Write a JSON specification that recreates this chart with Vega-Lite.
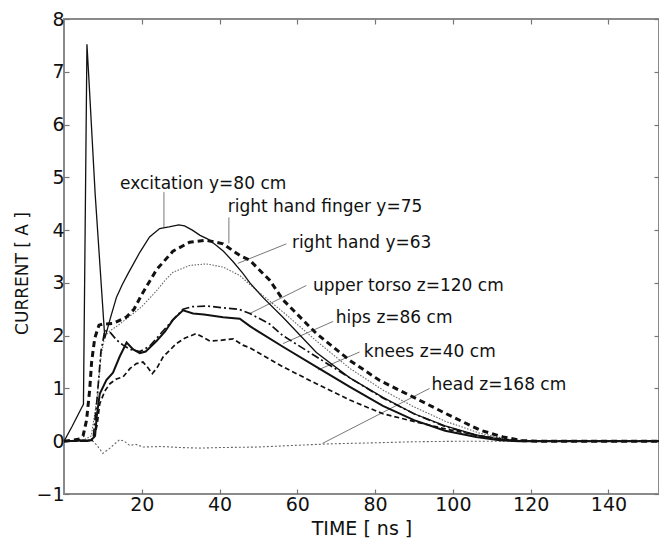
{
  "$schema": "https://vega.github.io/schema/vega-lite/v6.json",
  "width": 595,
  "height": 475,
  "autosize": {"type": "none"},
  "padding": {"left": 64, "top": 19, "right": 0, "bottom": 44},
  "background": "white",
  "config": {
    "view": {"stroke": "#8a8a8a", "strokeWidth": 2},
    "font": "DejaVu Sans",
    "axis": {"grid": false, "domain": false, "tickColor": "#777", "tickWidth": 1.2, "tickSize": -5, "labelFont": "DejaVu Sans", "labelFontSize": 19, "labelColor": "#111", "titleFont": "DejaVu Sans", "titleColor": "#111", "titleFontWeight": "normal"}
  },
  "datasets": {
    "curves": [
      {"series": "excitation", "t": 0, "I": 0}, {"series": "excitation", "t": 2, "I": 0.27}, {"series": "excitation", "t": 4.5, "I": 0.63}, {"series": "excitation", "t": 5.0, "I": 0.7}, {"series": "excitation", "t": 5.9, "I": 7.52}, {"series": "excitation", "t": 6.3, "I": 7.0}, {"series": "excitation", "t": 8, "I": 4.7}, {"series": "excitation", "t": 10.5, "I": 1.95}, {"series": "excitation", "t": 12, "I": 2.35}, {"series": "excitation", "t": 13.5, "I": 2.73}, {"series": "excitation", "t": 15, "I": 2.97}, {"series": "excitation", "t": 16.5, "I": 3.18}, {"series": "excitation", "t": 19.5, "I": 3.58}, {"series": "excitation", "t": 22, "I": 3.87}, {"series": "excitation", "t": 24.6, "I": 4.03}, {"series": "excitation", "t": 27, "I": 4.06}, {"series": "excitation", "t": 29.5, "I": 4.1}, {"series": "excitation", "t": 31, "I": 4.08}, {"series": "excitation", "t": 33, "I": 4.0}, {"series": "excitation", "t": 35, "I": 3.9}, {"series": "excitation", "t": 37, "I": 3.83}, {"series": "excitation", "t": 39.2, "I": 3.71}, {"series": "excitation", "t": 41, "I": 3.6}, {"series": "excitation", "t": 43.5, "I": 3.4}, {"series": "excitation", "t": 46, "I": 3.18}, {"series": "excitation", "t": 47.8, "I": 3.0}, {"series": "excitation", "t": 51.2, "I": 2.72}, {"series": "excitation", "t": 56.3, "I": 2.35}, {"series": "excitation", "t": 64.9, "I": 1.68}, {"series": "excitation", "t": 73.5, "I": 1.2}, {"series": "excitation", "t": 82, "I": 0.83}, {"series": "excitation", "t": 90, "I": 0.52}, {"series": "excitation", "t": 98, "I": 0.29}, {"series": "excitation", "t": 106, "I": 0.12}, {"series": "excitation", "t": 112, "I": 0.04}, {"series": "excitation", "t": 118, "I": 0}, {"series": "excitation", "t": 153, "I": 0},

      {"series": "finger", "t": 0, "I": 0}, {"series": "finger", "t": 2, "I": 0.02}, {"series": "finger", "t": 4, "I": 0.04}, {"series": "finger", "t": 4.9, "I": 0.1}, {"series": "finger", "t": 5.8, "I": 0.4}, {"series": "finger", "t": 6.6, "I": 0.97}, {"series": "finger", "t": 7.1, "I": 1.5}, {"series": "finger", "t": 7.9, "I": 1.95}, {"series": "finger", "t": 9, "I": 2.2}, {"series": "finger", "t": 10, "I": 2.22}, {"series": "finger", "t": 12.6, "I": 2.23}, {"series": "finger", "t": 16, "I": 2.35}, {"series": "finger", "t": 18, "I": 2.5}, {"series": "finger", "t": 20, "I": 2.78}, {"series": "finger", "t": 23.8, "I": 3.25}, {"series": "finger", "t": 28, "I": 3.6}, {"series": "finger", "t": 32.3, "I": 3.77}, {"series": "finger", "t": 36.6, "I": 3.81}, {"series": "finger", "t": 40.9, "I": 3.74}, {"series": "finger", "t": 45.2, "I": 3.52}, {"series": "finger", "t": 47.8, "I": 3.43}, {"series": "finger", "t": 49.5, "I": 3.3}, {"series": "finger", "t": 52.9, "I": 3.05}, {"series": "finger", "t": 56.3, "I": 2.68}, {"series": "finger", "t": 64.9, "I": 2.04}, {"series": "finger", "t": 73.5, "I": 1.53}, {"series": "finger", "t": 81.2, "I": 1.15}, {"series": "finger", "t": 89.7, "I": 0.84}, {"series": "finger", "t": 98.3, "I": 0.52}, {"series": "finger", "t": 107, "I": 0.21}, {"series": "finger", "t": 112.9, "I": 0.08}, {"series": "finger", "t": 118, "I": 0.01}, {"series": "finger", "t": 122, "I": 0}, {"series": "finger", "t": 153, "I": 0},

      {"series": "hand", "t": 0, "I": 0}, {"series": "hand", "t": 5, "I": 0.02}, {"series": "hand", "t": 7, "I": 0.1}, {"series": "hand", "t": 8.5, "I": 0.8}, {"series": "hand", "t": 9.5, "I": 1.6}, {"series": "hand", "t": 10.5, "I": 2.0}, {"series": "hand", "t": 12, "I": 2.1}, {"series": "hand", "t": 14, "I": 2.2}, {"series": "hand", "t": 17.8, "I": 2.42}, {"series": "hand", "t": 20, "I": 2.55}, {"series": "hand", "t": 23.8, "I": 2.85}, {"series": "hand", "t": 26, "I": 3.05}, {"series": "hand", "t": 28, "I": 3.2}, {"series": "hand", "t": 32.3, "I": 3.33}, {"series": "hand", "t": 36.6, "I": 3.36}, {"series": "hand", "t": 40.9, "I": 3.3}, {"series": "hand", "t": 45.2, "I": 3.14}, {"series": "hand", "t": 49.5, "I": 2.86}, {"series": "hand", "t": 56.3, "I": 2.45}, {"series": "hand", "t": 64.9, "I": 1.9}, {"series": "hand", "t": 73.5, "I": 1.38}, {"series": "hand", "t": 82, "I": 0.97}, {"series": "hand", "t": 90, "I": 0.65}, {"series": "hand", "t": 98, "I": 0.38}, {"series": "hand", "t": 107, "I": 0.15}, {"series": "hand", "t": 114, "I": 0.04}, {"series": "hand", "t": 120, "I": 0}, {"series": "hand", "t": 153, "I": 0},

      {"series": "torso", "t": 0, "I": 0}, {"series": "torso", "t": 6, "I": 0}, {"series": "torso", "t": 7.5, "I": 0.05}, {"series": "torso", "t": 8.5, "I": 0.8}, {"series": "torso", "t": 9.5, "I": 1.7}, {"series": "torso", "t": 10.5, "I": 2.1}, {"series": "torso", "t": 12, "I": 2.05}, {"series": "torso", "t": 13.5, "I": 1.92}, {"series": "torso", "t": 15.2, "I": 1.82}, {"series": "torso", "t": 17, "I": 1.74}, {"series": "torso", "t": 19.5, "I": 1.7}, {"series": "torso", "t": 22, "I": 1.8}, {"series": "torso", "t": 25, "I": 2.05}, {"series": "torso", "t": 28, "I": 2.3}, {"series": "torso", "t": 30.6, "I": 2.5}, {"series": "torso", "t": 33, "I": 2.55}, {"series": "torso", "t": 37, "I": 2.56}, {"series": "torso", "t": 41.8, "I": 2.52}, {"series": "torso", "t": 45, "I": 2.5}, {"series": "torso", "t": 47.8, "I": 2.42}, {"series": "torso", "t": 52.9, "I": 2.22}, {"series": "torso", "t": 56.3, "I": 2.0}, {"series": "torso", "t": 64.9, "I": 1.6}, {"series": "torso", "t": 73.5, "I": 1.2}, {"series": "torso", "t": 82, "I": 0.82}, {"series": "torso", "t": 90, "I": 0.52}, {"series": "torso", "t": 98, "I": 0.28}, {"series": "torso", "t": 106, "I": 0.11}, {"series": "torso", "t": 113, "I": 0.03}, {"series": "torso", "t": 118, "I": 0}, {"series": "torso", "t": 153, "I": 0},

      {"series": "hips", "t": 0, "I": 0}, {"series": "hips", "t": 7, "I": 0.02}, {"series": "hips", "t": 8, "I": 0.1}, {"series": "hips", "t": 8.4, "I": 0.46}, {"series": "hips", "t": 9.2, "I": 0.9}, {"series": "hips", "t": 10.9, "I": 1.16}, {"series": "hips", "t": 12.6, "I": 1.3}, {"series": "hips", "t": 14.3, "I": 1.6}, {"series": "hips", "t": 16.1, "I": 1.87}, {"series": "hips", "t": 17.8, "I": 1.74}, {"series": "hips", "t": 19.5, "I": 1.67}, {"series": "hips", "t": 21, "I": 1.7}, {"series": "hips", "t": 23.8, "I": 1.9}, {"series": "hips", "t": 26, "I": 2.08}, {"series": "hips", "t": 28, "I": 2.3}, {"series": "hips", "t": 30.6, "I": 2.48}, {"series": "hips", "t": 33.2, "I": 2.42}, {"series": "hips", "t": 36, "I": 2.4}, {"series": "hips", "t": 40.9, "I": 2.35}, {"series": "hips", "t": 45.2, "I": 2.32}, {"series": "hips", "t": 47.8, "I": 2.18}, {"series": "hips", "t": 49.5, "I": 2.1}, {"series": "hips", "t": 56.3, "I": 1.79}, {"series": "hips", "t": 64.9, "I": 1.41}, {"series": "hips", "t": 73.5, "I": 1.03}, {"series": "hips", "t": 82, "I": 0.67}, {"series": "hips", "t": 90, "I": 0.4}, {"series": "hips", "t": 98, "I": 0.2}, {"series": "hips", "t": 106, "I": 0.08}, {"series": "hips", "t": 112, "I": 0.02}, {"series": "hips", "t": 117, "I": 0}, {"series": "hips", "t": 153, "I": 0},

      {"series": "knees", "t": 0, "I": 0}, {"series": "knees", "t": 7.5, "I": 0.02}, {"series": "knees", "t": 8.5, "I": 0.3}, {"series": "knees", "t": 9.2, "I": 0.71}, {"series": "knees", "t": 10.5, "I": 0.95}, {"series": "knees", "t": 11.8, "I": 1.09}, {"series": "knees", "t": 13.5, "I": 1.18}, {"series": "knees", "t": 15.2, "I": 1.22}, {"series": "knees", "t": 17, "I": 1.38}, {"series": "knees", "t": 18.6, "I": 1.47}, {"series": "knees", "t": 20.3, "I": 1.5}, {"series": "knees", "t": 21.5, "I": 1.4}, {"series": "knees", "t": 22.7, "I": 1.28}, {"series": "knees", "t": 24, "I": 1.4}, {"series": "knees", "t": 25.5, "I": 1.6}, {"series": "knees", "t": 28.9, "I": 1.85}, {"series": "knees", "t": 31, "I": 1.95}, {"series": "knees", "t": 34, "I": 2.04}, {"series": "knees", "t": 37.5, "I": 1.9}, {"series": "knees", "t": 40, "I": 1.91}, {"series": "knees", "t": 43.5, "I": 1.94}, {"series": "knees", "t": 46, "I": 1.82}, {"series": "knees", "t": 47.8, "I": 1.77}, {"series": "knees", "t": 56.3, "I": 1.41}, {"series": "knees", "t": 64.9, "I": 1.09}, {"series": "knees", "t": 73.5, "I": 0.78}, {"series": "knees", "t": 82, "I": 0.52}, {"series": "knees", "t": 89.7, "I": 0.38}, {"series": "knees", "t": 98.3, "I": 0.23}, {"series": "knees", "t": 107, "I": 0.1}, {"series": "knees", "t": 114, "I": 0.03}, {"series": "knees", "t": 119, "I": 0}, {"series": "knees", "t": 153, "I": 0},

      {"series": "head", "t": 0, "I": 0}, {"series": "head", "t": 7.5, "I": 0}, {"series": "head", "t": 8.5, "I": -0.08}, {"series": "head", "t": 10, "I": -0.23}, {"series": "head", "t": 11.5, "I": -0.15}, {"series": "head", "t": 12.6, "I": -0.08}, {"series": "head", "t": 14.3, "I": 0.03}, {"series": "head", "t": 15.5, "I": 0.0}, {"series": "head", "t": 16.9, "I": -0.08}, {"series": "head", "t": 18.5, "I": -0.06}, {"series": "head", "t": 20.3, "I": -0.11}, {"series": "head", "t": 25, "I": -0.1}, {"series": "head", "t": 30, "I": -0.12}, {"series": "head", "t": 35, "I": -0.13}, {"series": "head", "t": 40, "I": -0.12}, {"series": "head", "t": 50, "I": -0.11}, {"series": "head", "t": 58.9, "I": -0.08}, {"series": "head", "t": 68.3, "I": -0.05}, {"series": "head", "t": 80, "I": -0.03}, {"series": "head", "t": 90, "I": -0.01}, {"series": "head", "t": 102.5, "I": 0}, {"series": "head", "t": 153, "I": 0}
    ],
    "labels": [
      {"label": "excitation y=80 cm", "t": 14.4, "I": 4.87},
      {"label": "right hand finger y=75", "t": 42.1, "I": 4.43},
      {"label": "right hand y=63", "t": 58.6, "I": 3.75},
      {"label": "upper torso z=120 cm", "t": 64.0, "I": 2.94},
      {"label": "hips z=86 cm", "t": 69.9, "I": 2.33},
      {"label": "knees z=40 cm", "t": 77.1, "I": 1.7},
      {"label": "head z=168 cm", "t": 94.5, "I": 1.06}
    ],
    "leaders": [
      {"t": 25.7, "I": 4.72, "t2": 25.7, "I2": 4.05},
      {"t": 42.4, "I": 4.24, "t2": 42.4, "I2": 3.75},
      {"t": 57.2, "I": 3.74, "t2": 44.7, "I2": 3.37},
      {"t": 62.3, "I": 2.95, "t2": 47.8, "I2": 2.42},
      {"t": 69.2, "I": 2.27, "t2": 56.3, "I2": 1.85},
      {"t": 76.0, "I": 1.69, "t2": 65.3, "I2": 1.35},
      {"t": 94.0, "I": 1.0, "t2": 66.5, "I2": -0.04}
    ]
  },
  "layer": [
    {
      "data": {"name": "leaders"},
      "mark": {"type": "rule", "stroke": "#555", "strokeWidth": 0.8},
      "encoding": {
        "x": {"field": "t", "type": "quantitative", "scale": {"domain": [0, 153], "nice": false, "zero": false}, "axis": {"orient": "top", "values": [20, 40, 60, 80, 100, 120, 140], "labels": false, "title": null}},
        "y": {"field": "I", "type": "quantitative", "scale": {"domain": [-1, 8], "nice": false, "zero": false}, "axis": {"orient": "right", "values": [-1, 0, 1, 2, 3, 4, 5, 6, 7, 8], "labels": false, "title": null}},
        "x2": {"field": "t2"},
        "y2": {"field": "I2"}
      }
    },
    {
      "data": {"name": "curves"},
      "transform": [{"filter": "datum.series === 'head'"}],
      "mark": {"type": "line", "stroke": "#666", "strokeWidth": 1.1, "strokeDash": [2, 2]},
      "encoding": {
        "x": {"field": "t", "type": "quantitative", "axis": {"orient": "bottom", "values": [20, 40, 60, 80, 100, 120, 140], "labelPadding": 6, "title": "TIME [ ns ]", "titleFontSize": 19, "titleY": 40, "titleBaseline": "alphabetic"}},
        "y": {"field": "I", "type": "quantitative", "axis": {"orient": "left", "values": [-1, 0, 1, 2, 3, 4, 5, 6, 7, 8], "labelPadding": 5, "title": "CURRENT [ A ]", "titleFontSize": 17, "titleX": -42, "titleY": 254, "titleBaseline": "middle"}}
      }
    },
    {
      "data": {"name": "curves"},
      "transform": [{"filter": "datum.series === 'hand'"}],
      "mark": {"type": "line", "stroke": "#666", "strokeWidth": 1.1, "strokeDash": [1.5, 1.5]},
      "encoding": {"x": {"field": "t", "type": "quantitative", "axis": null}, "y": {"field": "I", "type": "quantitative", "axis": null}}
    },
    {
      "data": {"name": "curves"},
      "transform": [{"filter": "datum.series === 'knees'"}],
      "mark": {"type": "line", "stroke": "#111", "strokeWidth": 1.7, "strokeDash": [5, 3]},
      "encoding": {"x": {"field": "t", "type": "quantitative", "axis": null}, "y": {"field": "I", "type": "quantitative", "axis": null}}
    },
    {
      "data": {"name": "curves"},
      "transform": [{"filter": "datum.series === 'torso'"}],
      "mark": {"type": "line", "stroke": "#111", "strokeWidth": 1.7, "strokeDash": [8, 3, 2, 3]},
      "encoding": {"x": {"field": "t", "type": "quantitative", "axis": null}, "y": {"field": "I", "type": "quantitative", "axis": null}}
    },
    {
      "data": {"name": "curves"},
      "transform": [{"filter": "datum.series === 'hips'"}],
      "mark": {"type": "line", "stroke": "#111", "strokeWidth": 2}, 
      "encoding": {"x": {"field": "t", "type": "quantitative", "axis": null}, "y": {"field": "I", "type": "quantitative", "axis": null}}
    },
    {
      "data": {"name": "curves"},
      "transform": [{"filter": "datum.series === 'finger'"}],
      "mark": {"type": "line", "stroke": "#111", "strokeWidth": 3, "strokeDash": [6, 4]},
      "encoding": {"x": {"field": "t", "type": "quantitative", "axis": null}, "y": {"field": "I", "type": "quantitative", "axis": null}}
    },
    {
      "data": {"name": "curves"},
      "transform": [{"filter": "datum.series === 'excitation'"}],
      "mark": {"type": "line", "stroke": "#111", "strokeWidth": 1.3},
      "encoding": {"x": {"field": "t", "type": "quantitative", "axis": null}, "y": {"field": "I", "type": "quantitative", "axis": null}}
    },
    {
      "data": {"name": "labels"},
      "mark": {"type": "text", "align": "left", "baseline": "middle", "fontSize": 17, "font": "DejaVu Sans", "color": "#111"},
      "encoding": {"x": {"field": "t", "type": "quantitative", "axis": null}, "y": {"field": "I", "type": "quantitative", "axis": null}, "text": {"field": "label"}}
    }
  ],
  "resolve": {"axis": {"x": "independent", "y": "independent"}}
}
